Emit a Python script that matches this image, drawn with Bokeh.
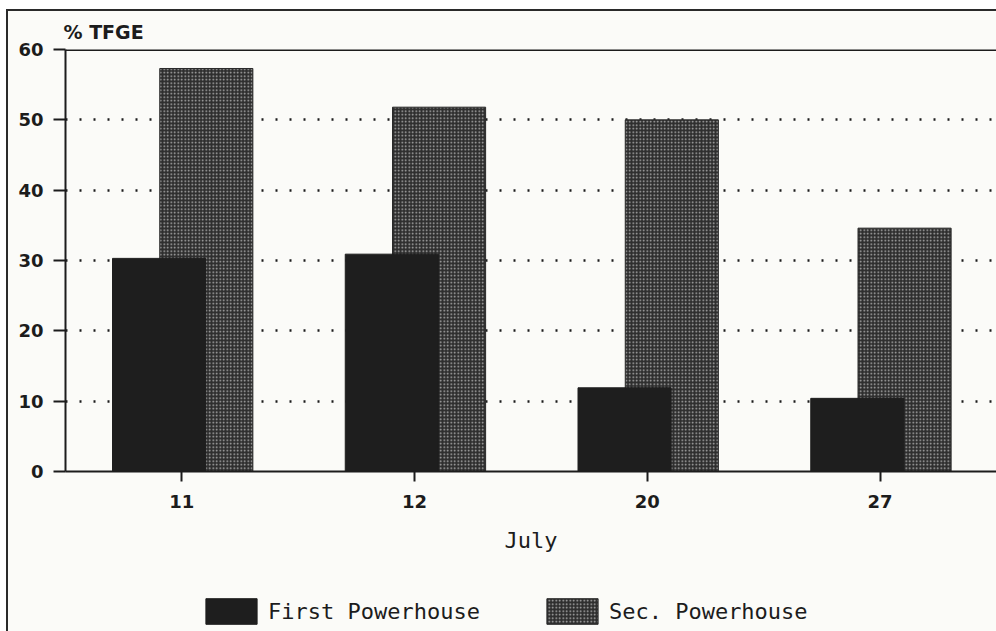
from bokeh.plotting import figure
from bokeh.layouts import column
from bokeh.models import (FactorRange, Range1d, Legend, LegendItem, FixedTicker,
                          ColumnDataSource, Span)
from bokeh.transform import dodge
from bokeh.embed import file_html
from bokeh.resources import INLINE

# ---- data ----
dates = ["11", "12", "20", "27"]
first_powerhouse = [30.3, 30.9, 11.9, 10.4]
sec_powerhouse = [57.3, 51.8, 50.0, 34.6]
y_ticks = [0, 10, 20, 30, 40, 50, 60]
grid_ticks = [10, 20, 30, 40, 50]
y_top = 60
x_label = "July"
y_label = "% TFGE"
series_names = ["First Powerhouse", "Sec. Powerhouse"]

PAPER = "#fbfbf8"
INK = "#1c1c1c"

src = ColumnDataSource(dict(x=dates, first=first_powerhouse, sec=sec_powerhouse))

SEC_STYLE = dict(fill_color="#2e2e2e", line_color="#2a2a2a", line_width=1,
                 hatch_pattern="dot", hatch_color="#b4b4b4", hatch_scale=3.5, hatch_weight=1.0)
FIRST_STYLE = dict(fill_color="#1e1e1e", line_color="#1e1e1e", line_width=1)

# ---------------- main chart ----------------
p = figure(
    x_range=FactorRange(factors=dates, range_padding=0),
    y_range=Range1d(0, y_top),
    frame_width=931, frame_height=422,
    output_backend="svg", toolbar_location=None,
    min_border_left=57, min_border_right=0, min_border_top=38, min_border_bottom=119,
    background_fill_color=PAPER, border_fill_color=PAPER,
)

p.title.text = y_label
p.title.align = "left"
p.title.text_font = "DejaVu Sans"
p.title.text_font_size = "19px"
p.title.text_font_style = "bold"
p.title.text_color = INK
p.title.standoff = 14
p.title.offset = -2

p.vbar(x=dodge("x", 0.105, range=p.x_range), top="sec", width=0.4, source=src, **SEC_STYLE)
p.vbar(x=dodge("x", -0.098, range=p.x_range), top="first", width=0.4, source=src, **FIRST_STYLE)

p.xaxis.axis_label = x_label
p.xaxis.axis_label_text_font = "DejaVu Sans Mono"
p.xaxis.axis_label_text_font_size = "22px"
p.xaxis.axis_label_text_font_style = "normal"
p.xaxis.axis_label_text_color = INK
p.xaxis.axis_label_standoff = 17
p.xaxis.major_label_text_font = "DejaVu Sans"
p.xaxis.major_label_text_font_size = "18px"
p.xaxis.major_label_text_font_style = "bold"
p.xaxis.major_label_text_color = INK
p.xaxis.major_tick_in = 0
p.xaxis.major_tick_out = 10
p.xaxis.major_tick_line_width = 2
p.xaxis.major_label_standoff = 13
p.xaxis.axis_line_width = 2
p.xaxis.axis_line_color = INK
p.xaxis.major_tick_line_color = INK

p.yaxis.ticker = FixedTicker(ticks=y_ticks)
p.yaxis.major_label_text_font = "DejaVu Sans"
p.yaxis.major_label_text_font_size = "18px"
p.yaxis.major_label_text_font_style = "bold"
p.yaxis.major_label_text_color = INK
p.yaxis.major_tick_in = 0
p.yaxis.major_tick_out = 12
p.yaxis.major_tick_line_width = 2
p.yaxis.minor_tick_line_color = None
p.yaxis.major_label_standoff = 10
p.yaxis.axis_line_width = 2
p.yaxis.axis_line_color = INK
p.yaxis.major_tick_line_color = INK

p.xgrid.visible = False
p.ygrid.ticker = FixedTicker(ticks=grid_ticks)
p.ygrid.grid_line_color = INK
p.ygrid.grid_line_width = 2.5
p.ygrid.grid_line_dash = "2 12"

p.outline_line_color = None
p.add_layout(Span(location=y_top, dimension="width", line_color=INK, line_width=3))

# ---------------- legend strip ----------------
# legend-only renderers: same glyph styles; the view range lies above every bar,
# so only the legend swatches are visible in this strip
lg = figure(
    x_range=FactorRange(factors=dates, range_padding=0),
    y_range=Range1d(2 * y_top, 3 * y_top),
    width=988, height=41,
    output_backend="svg", toolbar_location=None,
    x_axis_location=None, y_axis_location=None,
    min_border=0, min_border_left=0, min_border_right=0, min_border_top=0, min_border_bottom=0,
    background_fill_color=PAPER, border_fill_color=PAPER,
)
lg.grid.visible = False
lg.outline_line_color = None
r_sec = lg.vbar(x=dodge("x", 0.105, range=lg.x_range), top="sec", width=0.4, source=src,
                **SEC_STYLE)
r_first = lg.vbar(x=dodge("x", -0.098, range=lg.x_range), top="first", width=0.4, source=src,
                  **FIRST_STYLE)

legend = Legend(items=[LegendItem(label=series_names[0], renderers=[r_first]),
                       LegendItem(label=series_names[1], renderers=[r_sec])],
                orientation="horizontal", location=(134, 4),
                label_text_font="DejaVu Sans Mono", label_text_font_size="22px",
                label_text_color=INK,
                glyph_width=64, glyph_height=32, label_standoff=5, spacing=60,
                border_line_color=None, background_fill_alpha=0,
                padding=0, margin=0)
lg.add_layout(legend, "center")

page = column(p, lg, spacing=0)
page.styles = {"border-left": "2px solid #2a2a2a", "border-top": "2px solid #2a2a2a",
               "margin-left": "6px", "margin-top": "9px", "background-color": PAPER}

open("out.html", "w").write(file_html(page, INLINE))
